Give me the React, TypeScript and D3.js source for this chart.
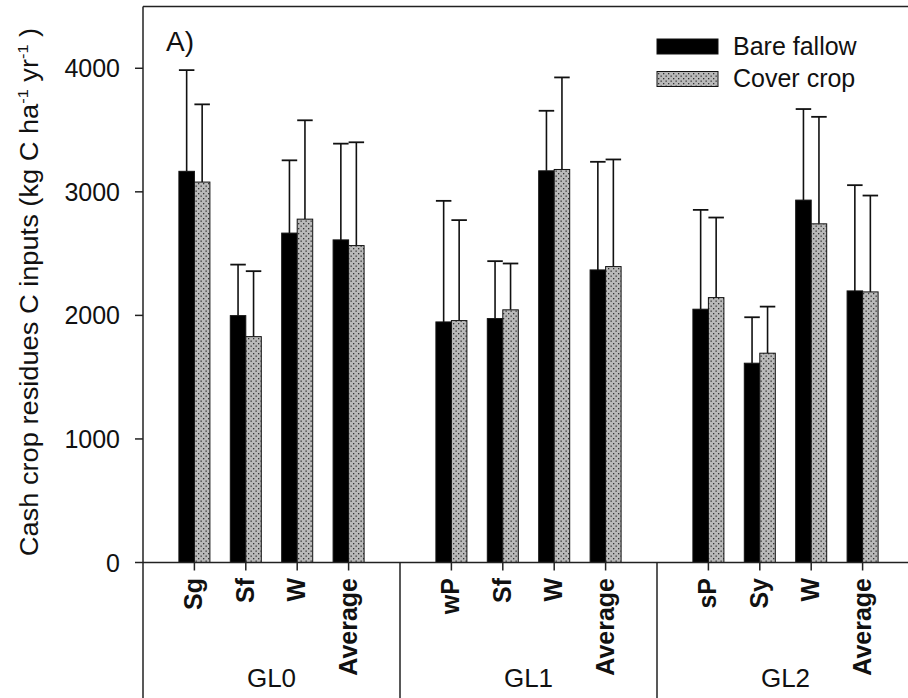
import React from "react";
import * as d3 from "d3";

const groups = ["GL0", "GL1", "GL2"];
const categories = ["Sg", "Sf", "W", "Average", "wP", "Sf", "W", "Average", "sP", "Sy", "W", "Average"];
const groupOf = [0, 0, 0, 0, 1, 1, 1, 1, 2, 2, 2, 2];
const bareFallow = [3166, 1998, 2666, 2611, 1947, 1974, 3170, 2368, 2050, 1613, 2933, 2198];
const bareFallowSD = [819, 413, 589, 779, 980, 465, 486, 875, 804, 372, 737, 856];
const coverCrop = [3079, 1828, 2779, 2565, 1958, 2045, 3181, 2395, 2144, 1694, 2741, 2190];
const coverCropSD = [629, 530, 800, 836, 813, 375, 745, 867, 648, 377, 866, 780];
const yTicks = [0, 1000, 2000, 3000, 4000];
const seriesNames = ["Bare fallow", "Cover crop"];

const W = 908;
const H = 698;
const left = 143;
const top = 6.5;
const base = 562.5;
const font = "Arial, 'Liberation Sans', Helvetica, sans-serif";

export default function App() {
  const x = d3.scaleLinear().domain([-1, 14]).range([left, 914]);
  const y = d3.scaleLinear().domain([0, 4500]).range([base, top]);
  const barW = 15.5;
  const pos = (i: number) => groupOf[i] * 5 + (i - groupOf[i] * 4);

  const bars: any[] = [];
  categories.forEach((c, i) => {
    const cx = x(pos(i));
    const series = [
      { v: bareFallow[i], sd: bareFallowSD[i], x0: cx - barW, fill: "#000" },
      { v: coverCrop[i], sd: coverCropSD[i], x0: cx, fill: "url(#dots)" },
    ];
    series.forEach((s, k) => {
      const mid = s.x0 + barW / 2;
      bars.push(
        <g key={`b${i}-${k}`}>
          <line x1={mid} x2={mid} y1={y(s.v)} y2={y(s.v + s.sd)} stroke="#111" strokeWidth={1.6} />
          <line x1={s.x0} x2={s.x0 + barW} y1={y(s.v + s.sd)} y2={y(s.v + s.sd)} stroke="#111" strokeWidth={1.8} />
          <rect x={s.x0} y={y(s.v)} width={barW} height={base - y(s.v)} fill={s.fill} stroke="#111" strokeWidth={1} />
        </g>
      );
    });
  });

  return (
    <svg width={W} height={H} style={{ position: "absolute", left: 0, top: 0, background: "#fff" }} fontFamily={font}>
      <defs>
        <pattern id="dots" width={5} height={5} patternUnits="userSpaceOnUse">
          <rect width={5} height={5} fill="#b9b9b9" />
          <rect x={0.5} y={0.5} width={1.3} height={1.3} fill="#333" />
          <rect x={3} y={3} width={1.3} height={1.3} fill="#333" />
        </pattern>
      </defs>
      <rect width={W} height={H} fill="#fff" />
      {bars}
      {/* frame */}
      <line x1={left} x2={914} y1={top} y2={top} stroke="#222" strokeWidth={1.5} />
      <line x1={left} x2={left} y1={top} y2={H} stroke="#222" strokeWidth={1.5} />
      <line x1={left} x2={914} y1={base} y2={base} stroke="#222" strokeWidth={1.5} />
      {[4, 9].map((p) => (
        <line key={p} x1={x(p)} x2={x(p)} y1={base} y2={H} stroke="#222" strokeWidth={1.5} />
      ))}
      {/* y ticks */}
      {yTicks.map((t) => (
        <g key={t}>
          <line x1={left - 8} x2={left} y1={y(t)} y2={y(t)} stroke="#222" strokeWidth={1.5} />
          <text x={120} y={y(t)} dy="0.36em" textAnchor="end" fontSize={25} fill="#111">
            {t}
          </text>
        </g>
      ))}
      {/* x ticks & labels */}
      {categories.map((c, i) => {
        const cx = x(pos(i));
        return (
          <g key={`x${i}`}>
            <line x1={cx} x2={cx} y1={base} y2={base + 8} stroke="#222" strokeWidth={1.5} />
            <text
              transform={`translate(${cx + 8},${578}) rotate(-90)`}
              textAnchor="end"
              fontSize={25}
              fontWeight="bold"
              fill="#111"
            >
              {c}
            </text>
          </g>
        );
      })}
      {groups.map((g, k) => (
        <text key={g} x={(x(k * 5 - 1) + x(k * 5 + 4)) / 2} y={687} textAnchor="middle" fontSize={26} fill="#111">
          {g}
        </text>
      ))}
      {/* y label */}
      <text transform={`translate(${38},${292}) rotate(-90) scale(1.09,1)`} textAnchor="middle" fontSize={25} fill="#111">
        Cash crop residues C inputs (kg C ha
        <tspan fontSize={15} dy={-10}>-1</tspan>
        <tspan dy={10}> yr</tspan>
        <tspan fontSize={15} dy={-10}>-1</tspan>
        <tspan dy={10}> )</tspan>
      </text>
      <text x={166} y={51} fontSize={28} fill="#111">A)</text>
      {/* legend */}
      <rect x={657} y={39} width={61} height={15} fill="#000" stroke="#111" />
      <rect x={657} y={71.5} width={61} height={15} fill="url(#dots)" stroke="#111" />
      <text x={733} y={55} fontSize={25} fill="#111">{seriesNames[0]}</text>
      <text x={733} y={87} fontSize={25} fill="#111">{seriesNames[1]}</text>
    </svg>
  );
}
